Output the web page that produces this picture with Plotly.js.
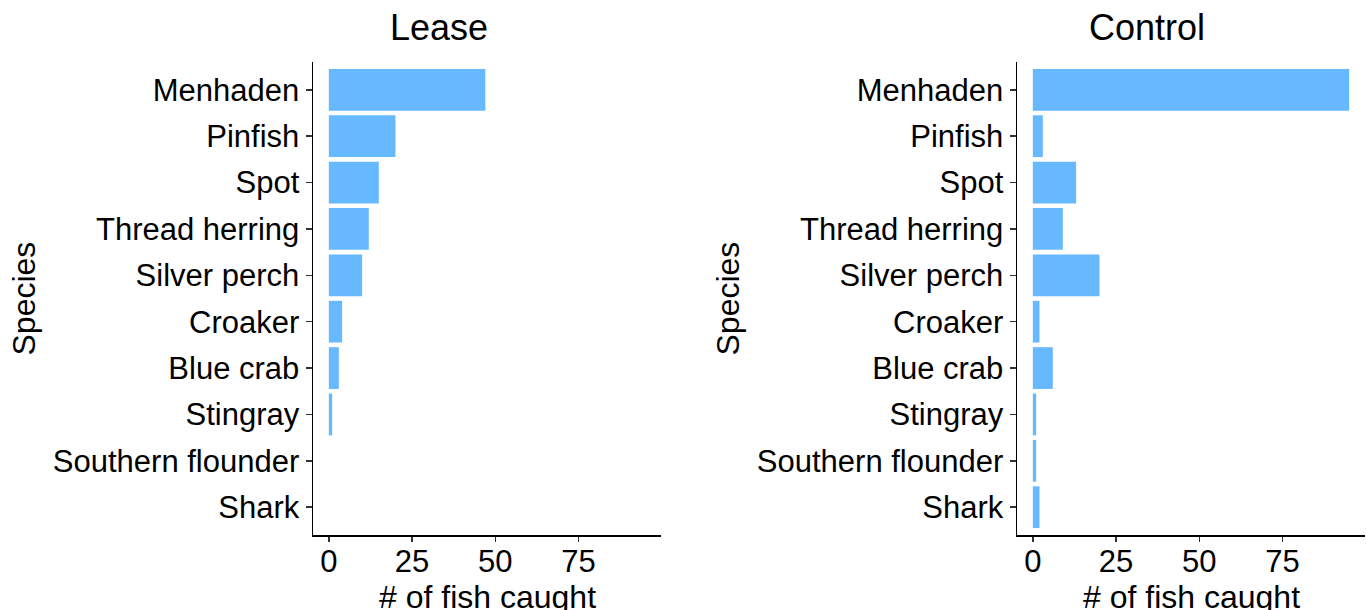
<!DOCTYPE html>
<html>
<head>
<meta charset="utf-8">
<script src="https://cdn.plot.ly/plotly-3.0.1.min.js"></script>
<style>
html,body{margin:0;padding:0;background:#fff;}
#chart{width:1366px;height:610px;}
</style>
</head>
<body>
<div id="chart"></div>
<script>
const species = ["Menhaden","Pinfish","Spot","Thread herring","Silver perch","Croaker","Blue crab","Stingray","Southern flounder","Shark"];
const leaseCounts = [47,20,15,12,10,4,3,1,0,0];
const controlCounts = [95,3,13,9,20,2,6,1,1,2];
const xTickVals = [0,25,50,75];
const xTickText = ["0","25","50","75"];
const panelTitles = ["Lease","Control"];

const FONT = "Liberation Sans, Arial, sans-serif";
const barColor = "#66B8FF";

const traces = [
  {type:"bar", orientation:"h", y:species, x:leaseCounts, xaxis:"x", yaxis:"y",
   marker:{color:barColor, line:{width:0}}, hoverinfo:"x+y"},
  {type:"bar", orientation:"h", y:species, x:controlCounts, xaxis:"x2", yaxis:"y2",
   marker:{color:barColor, line:{width:0}}, hoverinfo:"x+y"}
];

const xAxisBase = {
  range:[-4.75,99.75], tickvals:xTickVals, ticktext:xTickText,
  showgrid:false, zeroline:false, showline:true, linecolor:"#000", linewidth:1.5,
  ticks:"outside", ticklen:5, tickwidth:1.5, tickcolor:"#333",
  ticklabelstandoff:-7,
  tickfont:{family:FONT, size:31, color:"#000"}, fixedrange:true
};
const yAxisBase = {
  type:"category", categoryorder:"array", categoryarray:species,
  range:[9.6,-0.6], showgrid:false, zeroline:false, showline:true, linecolor:"#000", linewidth:1.5,
  ticks:"outside", ticklen:6, tickwidth:1.5, tickcolor:"#333",
  tickfont:{family:FONT, size:31, color:"#000"}, fixedrange:true
};

const yDom = [75/610, 548/610];
const layout = {
  width:1366, height:610,
  margin:{l:0,r:0,t:0,b:0},
  paper_bgcolor:"#fff", plot_bgcolor:"#fff",
  showlegend:false, bargap:0.1,
  font:{family:FONT, color:"#000"},
  xaxis:Object.assign({}, xAxisBase, {domain:[313/1366, 661/1366], anchor:"y"}),
  yaxis:Object.assign({}, yAxisBase, {domain:yDom, anchor:"x"}),
  xaxis2:Object.assign({}, xAxisBase, {domain:[1017/1366, 1365/1366], anchor:"y2"}),
  yaxis2:Object.assign({}, yAxisBase, {domain:yDom, anchor:"x2"}),
  annotations:[
    {text:panelTitles[0], xref:"paper", yref:"paper", x:438.5/1366, y:1-28/610, xanchor:"center", yanchor:"middle", showarrow:false, font:{family:FONT, size:36, color:"#000"}},
    {text:panelTitles[1], xref:"paper", yref:"paper", x:1146.7/1366, y:1-28/610, xanchor:"center", yanchor:"middle", showarrow:false, font:{family:FONT, size:36, color:"#000"}},
    {text:"# of fish caught", xref:"paper", yref:"paper", x:487/1366, y:1-597/610, xanchor:"center", yanchor:"middle", showarrow:false, font:{family:FONT, size:32, color:"#000"}},
    {text:"# of fish caught", xref:"paper", yref:"paper", x:1191/1366, y:1-597/610, xanchor:"center", yanchor:"middle", showarrow:false, font:{family:FONT, size:32, color:"#000"}},
    {text:"Species", xref:"paper", yref:"paper", x:23/1366, y:1-298.5/610, xanchor:"center", yanchor:"middle", textangle:-90, showarrow:false, font:{family:FONT, size:32, color:"#000"}},
    {text:"Species", xref:"paper", yref:"paper", x:727/1366, y:1-298.5/610, xanchor:"center", yanchor:"middle", textangle:-90, showarrow:false, font:{family:FONT, size:32, color:"#000"}}
  ]
};

Plotly.newPlot("chart", traces, layout, {displayModeBar:false, staticPlot:true});
</script>
</body>
</html>
